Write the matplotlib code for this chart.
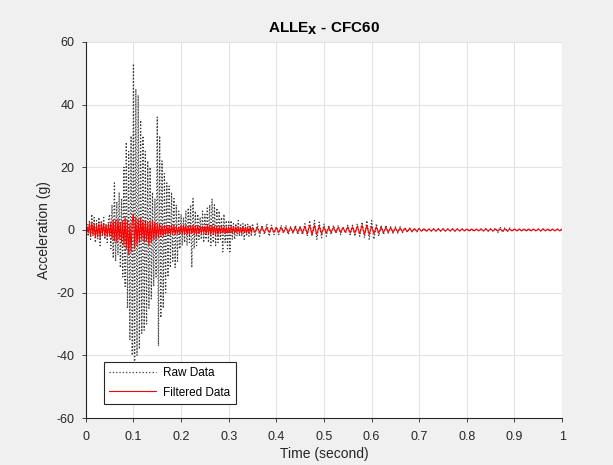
import matplotlib.pyplot as plt
import numpy as np

# sample times: 0.0025 s steps up to 0.35 s, then 0.005 s steps up to 1 s
time = np.concatenate([np.arange(141) * 0.0025, 0.35 + np.arange(1, 131) * 0.005])

raw_data = [
    0, 2, -2, 3, -3, 5, -2, 4, -4, 3, -3, 4, -5, 3, -2, 4, -3, 2, -4, 3,
    5, -6, 8, -9, 15, -10, 9, -8, 12, -12, 10, -15, 20, -18, 28, -25, 25, -35, 30, -40,
    53, -43, 45, -40, 43, -38, 35, -33, 30, -32, 25, -30, 22, -25, 20, -22, 12, -18, 10, -15,
    36, -37, 30, -28, 22, -25, 18, -20, 15, -15, 14, -12, 12, -10, 10, -12, 8, -10, 6, -6,
    5, -5, 4, -4, 6, -5, 7, -4, 8, -12, 10, -6, 6, -5, 5, -3, 4, -3, 6, -4,
    5, -3, 7, -4, 8, -5, 10, -4, 8, -5, 7, -4, 6, -3, 4, -7, 5, -4, 3, -6,
    3, -7, 3, -3, 2, -3, 2, -2, 3, -2, 2, -2, 2, -3, 2, -2, 2, -2, 1.5, -2, 2,
    -2, 2, -2, 1.5, -1.5, 2, -2, 1.5, -1.5, 1,
    -1.5, 1.5, -1, 1.5, -1.5, 1, -1, 1.5, -1.5, 1,
    -1.5, 2, -2, 3, -2, 3, -3, 2.5, -2.5, 2,
    -2, 1.5, -1.5, 1.5, -1, 1.5, -1.5, 1, -1, 1.5,
    -1.5, 1.5, -2, 2, -2, 2.5, -2.5, 3, -3, 3,
    -3, 2, -2, 1.5, -1.5, 1.5, -1, 1, -1, 1,
    -1, 1, -0.8, 0.8, -0.8, 0.6, -0.6, 0.6, -0.6, 0.5,
    -0.5, 0.5, -0.5, 0.4, -0.4, 0.4, -0.4, 0.4, -0.4, 0.4,
    -0.4, 0.3, -0.3, 0.4, -0.4, 0.3, -0.3, 0.3, -0.3, 0.3,
    -0.3, 0.3, -0.3, 0.3, -0.3, 0.3, -0.3, 0.4, -0.4, 0.4,
    -0.4, 0.6, -0.8, 1, -0.8, 0.8, -0.6, 0.6, -0.5, 0.5,
    -0.4, 0.4, -0.3, 0.3, -0.3, 0.3, -0.3, 0.3, -0.3, 0.3,
    -0.3, 0.3, -0.2, 0.2, -0.2, 0.2, -0.2, 0.2, -0.2, 0.2,
]

filtered_data = [
    0, 1, -1, 2, -2, 2.5, -1.5, 2, -2.5, 1.5, -2, 2, -2.5, 2, -1.5, 2, -2, 1.5, -2, 2,
    -2, 2.5, -3, 3, -3.5, 3, -4, 3.5, -3, 2.5, -4, 3, -5, 4, -6, 3, -8, 2, -7, 3,
    5, -6, 4, -5, 3.5, -4, 4, -3, 3, -4, 3, -3.5, 2.5, -5, 3, -4, 3, -3, 2.5, -3,
    2, -2.5, 2, -2, 1.5, -2, 1.5, -1.5, 1.5, -1.5, 1.2, -1.5, 1.5, -1.2, 1.5, -1.5, 1.2, -1.2, 1, -1.2,
    1.5, -1.5, 1.5, -1.2, 1.5, -1.5, 1.2, -1.5, 1.5, -1.2, 1.5, -1.5, 1.2, -1.5, 1.5, -1.2, 1.2, -1, 1.2, -1,
    1.2, -1.5, 1.5, -1.2, 1.5, -1.5, 1.5, -1.2, 1.2, -1.5, 1.2, -1.5, 1, -1.2, 1.2, -1, 1, -1.2, 1, -1,
    1, -1, 1.2, -1, 1, -1, 1, -0.8, 1, -1, 0.8, -1, 1, -0.8, 0.8, -1, 0.8, -0.8, 1, -0.8, 0.8,
    -0.8, 0.8, -0.8, 0.8, -0.8, 0.8, -0.8, 0.8, -0.8, 0.8,
    -0.8, 0.8, -0.8, 0.8, -0.8, 0.8, -0.8, 0.8, -0.8, 1,
    -1, 1.2, -1.2, 1.5, -1.5, 1.5, -1.5, 1.2, -1.2, 1,
    -1, 0.8, -0.8, 0.8, -0.8, 0.8, -0.8, 0.8, -0.8, 1,
    -1, 1, -1, 1.2, -1.2, 1.5, -1.5, 1.5, -1.5, 1.2,
    -1.2, 1, -1, 0.8, -0.8, 0.8, -0.8, 0.8, -0.8, 0.6,
    -0.6, 0.6, -0.6, 0.5, -0.5, 0.5, -0.5, 0.4, -0.4, 0.4,
    -0.4, 0.4, -0.4, 0.3, -0.3, 0.3, -0.3, 0.3, -0.3, 0.3,
    -0.3, 0.3, -0.3, 0.3, -0.3, 0.3, -0.3, 0.3, -0.3, 0.3,
    -0.3, 0.3, -0.3, 0.3, -0.3, 0.3, -0.3, 0.3, -0.3, 0.3,
    -0.3, 0.3, -0.3, 0.3, -0.3, 0.3, -0.3, 0.3, -0.3, 0.3,
    -0.3, 0.3, -0.3, 0.3, -0.3, 0.3, -0.3, 0.3, -0.3, 0.3,
    -0.3, 0.3, -0.3, 0.3, -0.3, 0.3, -0.3, 0.3, -0.3, 0.3,
]

x_ticks = [0, 0.1, 0.2, 0.3, 0.4, 0.5, 0.6, 0.7, 0.8, 0.9, 1]
x_tick_labels = ['0', '0.1', '0.2', '0.3', '0.4', '0.5', '0.6', '0.7', '0.8', '0.9', '1']
y_ticks = [-60, -40, -20, 0, 20, 40, 60]

plt.rcParams['font.family'] = ['Liberation Sans', 'DejaVu Sans']
plt.rcParams['axes.unicode_minus'] = False

fig = plt.figure(figsize=(6.13, 4.65), dpi=100, facecolor='#f0f0f0')
ax = fig.add_axes([0.140, 0.101, 0.777, 0.809])
ax.set_facecolor('white')

ax.plot(time, raw_data, linestyle=':', color='#3a3a3a', linewidth=0.9, label='Raw Data')
ax.plot(time, filtered_data, linestyle='-', color='red', linewidth=0.8, label='Filtered Data')

ax.set_xlim(0, 1)
ax.set_ylim(-60, 60)
ax.set_xticks(x_ticks)
ax.set_xticklabels(x_tick_labels)
ax.set_yticks(y_ticks)
ax.grid(True, color='#e3e3e3', linewidth=0.8)
ax.set_axisbelow(True)
for side in ['top', 'right']:
    ax.spines[side].set_visible(False)
for side in ['left', 'bottom']:
    ax.spines[side].set_color('#262626')
    ax.spines[side].set_linewidth(0.8)
ax.tick_params(direction='out', length=3, width=0.6, colors='#262626', labelsize=9)
ax.tick_params(axis='x', pad=6)
ax.tick_params(axis='y', pad=5)

ax.set_title(r'ALLE$_{\mathbf{X}}$ - CFC60', fontsize=11, fontweight='bold', pad=7)
ax.set_xlabel('Time (second)', fontsize=10, color='#262626', labelpad=3)
ax.set_ylabel('Acceleration (g)', fontsize=10, color='#262626', labelpad=4)

leg = ax.legend(loc='lower left', bbox_to_anchor=(0.025, 0.022), fontsize=8.5, fancybox=False,
                framealpha=1, edgecolor='#262626', handlelength=4, borderpad=0.45,
                handletextpad=0.6, labelspacing=0.6)
leg.get_frame().set_linewidth(0.8)

plt.savefig('out.png', dpi=100, facecolor=fig.get_facecolor())
